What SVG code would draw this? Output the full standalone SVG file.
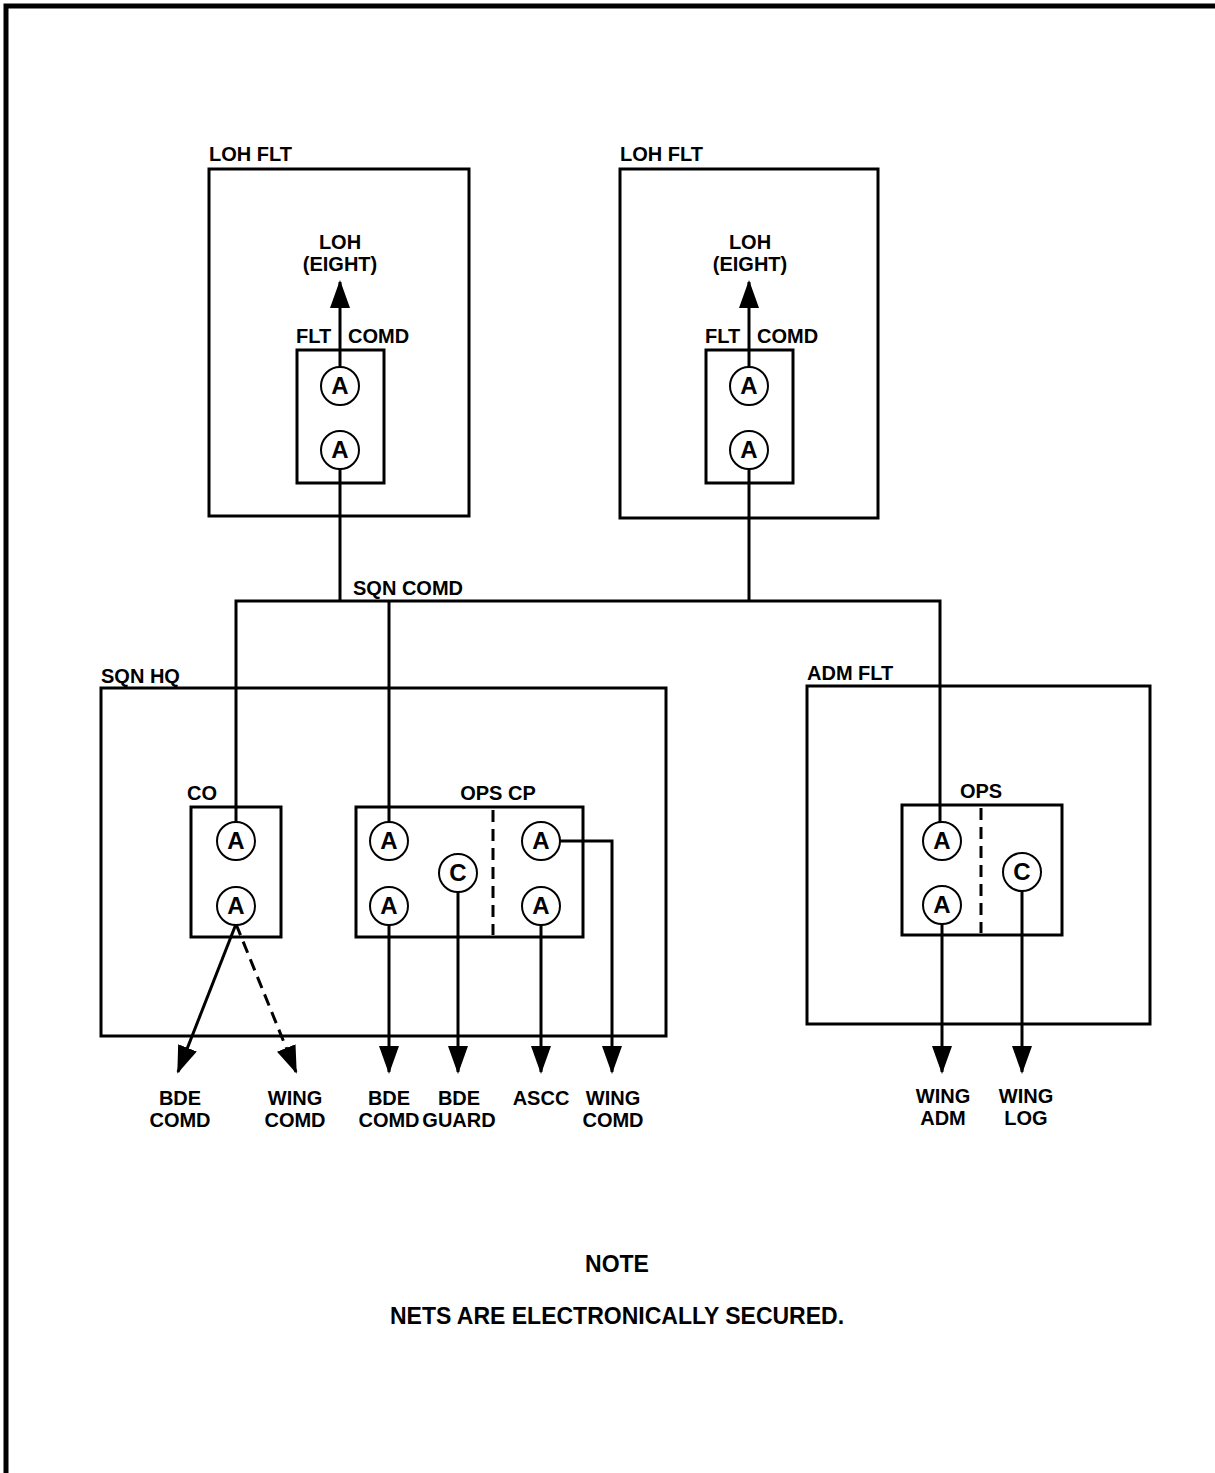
<svg xmlns="http://www.w3.org/2000/svg" width="1215" height="1473" viewBox="0 0 1215 1473">
<style>
.box{fill:none;stroke:#000;stroke-width:3}
.ln{fill:none;stroke:#000;stroke-width:3}
.dash{fill:none;stroke:#000;stroke-width:3;stroke-dasharray:12 7}
.cir{fill:#fff;stroke:#000;stroke-width:2}
.t{font-family:"Liberation Sans",Arial,sans-serif;font-weight:bold;font-size:20px;fill:#000}
.c{text-anchor:middle}
.l{font-family:"Liberation Sans",Arial,sans-serif;font-weight:bold;font-size:24px;fill:#000;text-anchor:middle}
</style>
<defs>
<marker id="ah" markerWidth="28" markerHeight="20" refX="26" refY="10" orient="auto" markerUnits="userSpaceOnUse" viewBox="0 0 28 20">
<path d="M0,0 L28,10 L0,20 Z" fill="#000"/>
</marker>
</defs>
<rect width="1215" height="1473" fill="#fff"/>
<g id="frame">
<path d="M6,1473 V6 H1215" fill="none" stroke="#000" stroke-width="5"/>
</g>
<g id="connectors">
<line class="ln" x1="340" y1="368" x2="340" y2="282" marker-end="url(#ah)"/>
<line class="ln" x1="749" y1="368" x2="749" y2="282" marker-end="url(#ah)"/>
<line class="ln" x1="340" y1="468" x2="340" y2="601"/>
<line class="ln" x1="749" y1="468" x2="749" y2="601"/>
<polyline class="ln" points="236,823 236,601 940,601 940,823"/>
<line class="ln" x1="389" y1="601" x2="389" y2="823"/>
<line class="ln" x1="236" y1="924" x2="178" y2="1072" marker-end="url(#ah)"/>
<line class="dash" x1="236" y1="924" x2="296" y2="1072" marker-end="url(#ah)"/>
<line class="ln" x1="389" y1="924" x2="389" y2="1072" marker-end="url(#ah)"/>
<line class="ln" x1="458" y1="891" x2="458" y2="1072" marker-end="url(#ah)"/>
<line class="ln" x1="541" y1="924" x2="541" y2="1072" marker-end="url(#ah)"/>
<polyline class="ln" points="559,841 612,841 612,1072" marker-end="url(#ah)"/>
<line class="ln" x1="942" y1="923" x2="942" y2="1072" marker-end="url(#ah)"/>
<line class="ln" x1="1022" y1="890" x2="1022" y2="1072" marker-end="url(#ah)"/>
<text class="t" x="353" y="595">SQN COMD</text>
</g>
<g id="loh-flt-1">
<rect class="box" x="209" y="169" width="260" height="347"/>
<text class="t" x="209" y="161">LOH FLT</text>
<text class="t c" x="340" y="249">LOH</text>
<text class="t c" x="340" y="271">(EIGHT)</text>
<text class="t" x="296" y="343">FLT</text>
<text class="t" x="348" y="343">COMD</text>
<rect class="box" x="297" y="350" width="87" height="133"/>
<circle class="cir" cx="340" cy="386" r="19"/><text class="l" x="340" y="394">A</text>
<circle class="cir" cx="340" cy="450" r="19"/><text class="l" x="340" y="458">A</text>
</g>
<g id="loh-flt-2">
<rect class="box" x="620" y="169" width="258" height="349"/>
<text class="t" x="620" y="161">LOH FLT</text>
<text class="t c" x="750" y="249">LOH</text>
<text class="t c" x="750" y="271">(EIGHT)</text>
<text class="t" x="705" y="343">FLT</text>
<text class="t" x="757" y="343">COMD</text>
<rect class="box" x="706" y="350" width="87" height="133"/>
<circle class="cir" cx="749" cy="386" r="19"/><text class="l" x="749" y="394">A</text>
<circle class="cir" cx="749" cy="450" r="19"/><text class="l" x="749" y="458">A</text>
</g>
<g id="sqn-hq">
<rect class="box" x="101" y="688" width="565" height="348"/>
<text class="t" x="101" y="683">SQN HQ</text>
</g>
<g id="co">
<rect class="box" x="191" y="807" width="90" height="130"/>
<text class="t" x="187" y="800">CO</text>
<circle class="cir" cx="236" cy="841" r="19"/><text class="l" x="236" y="849">A</text>
<circle class="cir" cx="236" cy="906" r="19"/><text class="l" x="236" y="914">A</text>
</g>
<g id="ops-cp">
<rect class="box" x="356" y="807" width="227" height="130"/>
<line class="dash" x1="493" y1="810" x2="493" y2="935"/>
<text class="t c" x="498" y="800">OPS CP</text>
<circle class="cir" cx="389" cy="841" r="19"/><text class="l" x="389" y="849">A</text>
<circle class="cir" cx="389" cy="906" r="19"/><text class="l" x="389" y="914">A</text>
<circle class="cir" cx="458" cy="873" r="19"/><text class="l" x="458" y="881">C</text>
<circle class="cir" cx="541" cy="841" r="19"/><text class="l" x="541" y="849">A</text>
<circle class="cir" cx="541" cy="906" r="19"/><text class="l" x="541" y="914">A</text>
</g>
<g id="adm-flt">
<rect class="box" x="807" y="686" width="343" height="338"/>
<text class="t" x="807" y="680">ADM FLT</text>
</g>
<g id="ops">
<rect class="box" x="902" y="805" width="160" height="130"/>
<line class="dash" x1="981" y1="808" x2="981" y2="933"/>
<text class="t c" x="981" y="798">OPS</text>
<circle class="cir" cx="942" cy="841" r="19"/><text class="l" x="942" y="849">A</text>
<circle class="cir" cx="942" cy="905" r="19"/><text class="l" x="942" y="913">A</text>
<circle class="cir" cx="1022" cy="872" r="19"/><text class="l" x="1022" y="880">C</text>
</g>
<g id="labels">
<text class="t c" x="180" y="1105">BDE</text><text class="t c" x="180" y="1127">COMD</text>
<text class="t c" x="295" y="1105">WING</text><text class="t c" x="295" y="1127">COMD</text>
<text class="t c" x="389" y="1105">BDE</text><text class="t c" x="389" y="1127">COMD</text>
<text class="t c" x="459" y="1105">BDE</text><text class="t c" x="459" y="1127">GUARD</text>
<text class="t c" x="541" y="1105">ASCC</text>
<text class="t c" x="613" y="1105">WING</text><text class="t c" x="613" y="1127">COMD</text>
<text class="t c" x="943" y="1103">WING</text><text class="t c" x="943" y="1125">ADM</text>
<text class="t c" x="1026" y="1103">WING</text><text class="t c" x="1026" y="1125">LOG</text>
</g>
<g id="note">
<text class="t c" x="617" y="1272" style="font-size:23px">NOTE</text>
<text class="t c" x="617" y="1324" style="font-size:23px">NETS ARE ELECTRONICALLY SECURED.</text>
</g>
</svg>
